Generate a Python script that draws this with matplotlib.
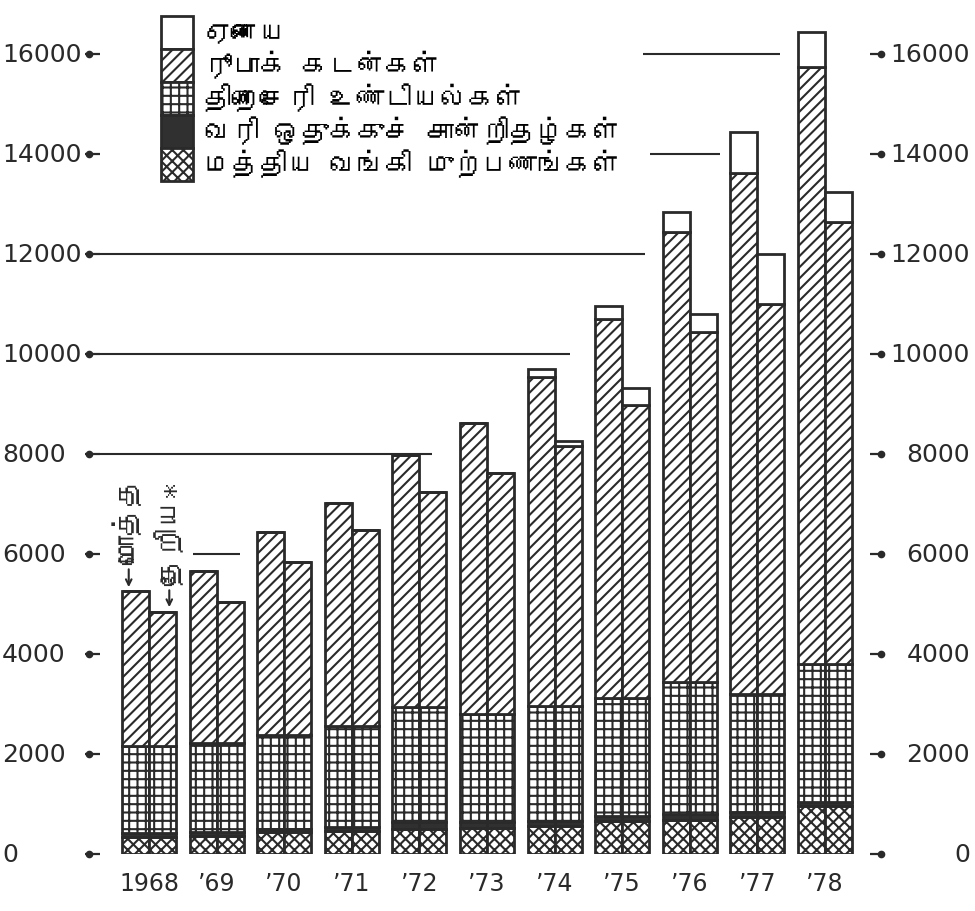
import matplotlib
matplotlib.use("Agg")
import matplotlib.pyplot as plt
from matplotlib import font_manager
from matplotlib.ft2font import FT2Font
from matplotlib.patches import Patch
import numpy as np

# data (Rs. million)
years = ['1968', '’69', '’70', '’71', '’72', '’73', '’74', '’75', '’76', '’77', '’78']
cb_advances = [340, 360, 440, 460, 500, 520, 560, 660, 680, 740, 960]
tax_reserve = [80, 80, 60, 80, 140, 120, 100, 100, 120, 100, 80]
treasury_bills = [1740, 1780, 1880, 2020, 2300, 2160, 2300, 2360, 2640, 2360, 2760]
rupee_gross = [3100, 3440, 4060, 4460, 5040, 5820, 6580, 7580, 9000, 10420, 11940]
rupee_net = [2680, 2820, 3460, 3920, 4300, 4820, 5200, 5860, 7000, 7800, 8840]
other_gross = [0, 0, 0, 0, 0, 0, 160, 260, 400, 820, 700]
other_net = [0, 0, 0, 0, 0, 0, 100, 340, 360, 1000, 600]
yticks = [0, 2000, 4000, 6000, 8000, 10000, 12000, 14000, 16000]

labels = ['ஏனைய', 'ரூபாக் கடன்கள்', 'திறைசேரி உண்டியல்கள்',
          'வரி ஒதுக்குச் சான்றிதழ்கள்', 'மத்திய வங்கி முற்பணங்கள்']


def find_tamil_font():
    for f in font_manager.fontManager.ttflist:
        try:
            if 0x0BA4 in FT2Font(f.fname).get_charmap():
                return f.name
        except Exception:
            pass
    return None


tamil = find_tamil_font()
tfam = [tamil, 'DejaVu Sans'] if tamil else ['DejaVu Sans']

plt.rcParams['hatch.linewidth'] = 1.5
plt.rcParams['font.family'] = ['DejaVu Sans']

fig = plt.figure(figsize=(9.75, 9.12), dpi=100)
ax = fig.add_axes([100 / 975, 57 / 912, 770 / 975, 855 / 912])

x = np.arange(len(years))
w = 0.4
ink = '#2a2a2a'
# legend order: top to bottom
fills = ['white', 'white', 'white', '#303030', 'white']
hatches = ['', '///', '++', '', 'xxx']

for xs, rupee, other in [(x - w / 2, rupee_gross, other_gross), (x + w / 2, rupee_net, other_net)]:
    layers = [cb_advances, tax_reserve, treasury_bills, rupee, other]
    styles = list(zip(fills[::-1], hatches[::-1]))
    bottom = np.zeros(len(years))
    for vals, (fc, hatch) in zip(layers, styles):
        ax.bar(xs, vals, w, bottom=bottom, color=fc, hatch=hatch,
               edgecolor=ink, linewidth=2.0)
        bottom += np.array(vals)

# partial guide lines as in the original print
guides = [(16000, 7.31, 9.33), (14000, 7.41, 8.45), (12000, -0.72, 7.34),
          (10000, -0.72, 6.23), (8000, -0.72, 4.19), (6000, 0.65, 1.35)]
for yv, x0, x1 in guides:
    ax.hlines(yv, x0, x1, color=ink, linewidth=1.5)

ax.set_xlim(-0.725, 10.666)
ax.set_ylim(0, 17100)
ax.set_xticks(x)
ax.set_xticklabels(years, fontsize=17, color=ink)
ax.tick_params(axis='x', length=0, pad=12)
ax.set_yticks(yticks)
ax.tick_params(axis='y', length=11, width=1.6, color=ink, labelleft=False,
               right=True)
for s in ax.spines.values():
    s.set_visible(False)

# tick labels: left ones flush left, right ones flush right
yt = ax.get_yaxis_transform()
for v in yticks:
    ax.text(-98 / 770, v, str(v), transform=yt, ha='left', va='center',
            fontsize=18, color=ink)
    ax.text(1 + 100 / 770, v, str(v), transform=yt, ha='right', va='center',
            fontsize=18, color=ink)
ax.plot([-11 / 770] * len(yticks), yticks, 'o', ms=4.5, color=ink,
        transform=yt, clip_on=False)
ax.plot([1 + 11 / 770] * len(yticks), yticks, 'o', ms=4.5, color=ink,
        transform=yt, clip_on=False)

# gross / net markers on the first pair
ax.annotate('', xy=(-w / 2 - 0.1, 5280), xytext=(-w / 2 - 0.1, 5750),
            arrowprops=dict(arrowstyle='->', color=ink, lw=1.5))
ax.annotate('', xy=(w / 2 + 0.1, 4880), xytext=(w / 2 + 0.1, 5330),
            arrowprops=dict(arrowstyle='->', color=ink, lw=1.5))
ax.text(-w / 2 - 0.12, 5800, 'மொத்த', rotation=90, ha='center', va='bottom',
        fontsize=21, family=tfam, color=ink)
ax.text(w / 2 + 0.1, 5380, 'தேறிய*', rotation=90, ha='center', va='bottom',
        fontsize=21, family=tfam, color=ink)

handles = [Patch(facecolor=fc, edgecolor=ink, hatch=h, linewidth=2.0)
           for fc, h in zip(fills, hatches)]
fig.legend(handles, labels, loc='upper left', bbox_to_anchor=(147 / 975, 0.997),
           frameon=False, borderpad=0, labelspacing=0.0, handlelength=1.15,
           handleheight=1.45, handletextpad=0.4,
           prop={'family': tfam, 'size': 20})

plt.savefig('out.png', dpi=100)
